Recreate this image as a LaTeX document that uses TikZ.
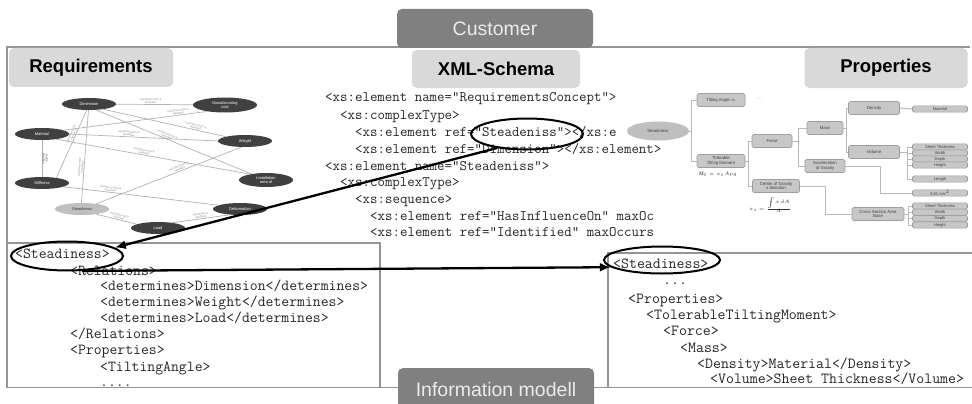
\documentclass[tikz,border=0pt]{standalone}
\usepackage{fontspec}
\setsansfont{Liberation Sans}
\usetikzlibrary{arrows.meta,shapes.geometric}
\tikzset{
  frameline/.style={draw=black!42, line width=1.3pt},
  darktab/.style={fill=black!50, rounded corners=5pt, text=black!8, inner sep=0,
    font=\sffamily\fontsize{19.5}{21}\selectfont},
  lighttab/.style={fill=black!15, rounded corners=5pt, text=black, inner sep=0,
    font=\sffamily\bfseries\fontsize{18.5}{20}\selectfont},
  codeS/.style={anchor=base west, inner sep=0, text=black!85, font=\ttfamily\fontsize{14.5}{16}\selectfont},
  codeL/.style={anchor=base west, inner sep=0, text=black!85, font=\ttfamily\fontsize{15.3}{16}\selectfont},
  codeR/.style={anchor=base west, inner sep=0, text=black!85, font=\ttfamily\fontsize{15.4}{16}\selectfont},
  req/.style={ellipse, fill=black!75, text=white, inner sep=0, minimum width=54, minimum height=12,
    align=center, font=\sffamily\fontsize{4}{4.5}\selectfont},
  reqedge/.style={draw=black!30, line width=0.7pt},
  elabel/.style={font=\sffamily\fontsize{2.7}{2.9}\selectfont, text=black!45, sloped, above=0.3pt,
    inner sep=0.2pt, align=center},
  pbox/.style={rectangle, rounded corners=1.5pt, fill=black!22, draw=black!38, line width=0.6pt,
    inner sep=0, align=center, text=black!75, font=\sffamily\fontsize{4.3}{4.8}\selectfont},
  leaf/.style={pbox, minimum width=55, minimum height=6.3, font=\sffamily\fontsize{4}{4}\selectfont},
  ptree/.style={draw=black!28, line width=1pt},
  formula/.style={inner sep=0, text=black!80, font=\fontsize{5}{6}\selectfont},
  circ/.style={ellipse, draw=black, line width=2pt, inner sep=0},
  bigarrow/.style={draw=black, line width=2.3pt, -{Latex[length=11pt,width=9pt]}},
}
\begin{document}
\begin{tikzpicture}[x=1pt,y=-1pt]
\path[use as bounding box, fill=white] (0,0) rectangle (972,404);

% frame lines
\draw[frameline] (7,243) -- (7,47) -- (970,47);
\draw[frameline] (7,243) rectangle (380,387.5);
\draw[frameline] (972,253) -- (608,253) -- (608,387.5);
\draw[frameline] (7,387.5) -- (972,387.5);

% ---------- Requirements graph ----------
\node[req] (dim) at (89,104) {Dimension};
\node[req, minimum width=64, minimum height=15] (man) at (225,105) {Manufacturing\\cost};
\node[req] (mat) at (42,134) {Material};
\node[req] (wei) at (245,141) {Weight};
\node[req] (sti) at (42,183) {Stiffness};
\node[req, minimum height=14] (ins) at (266,180) {Installation\\area of};
\node[req, fill=black!25, text=black!80] (ste) at (82,209) {Steadiness};
\node[req] (def) at (240,209) {Deformation};
\node[req] (loa) at (158,228) {Load};

\draw[reqedge] (dim) -- node[elabel, pos=0.45] {hasInfluenceOn \&\\Identified} (man);
\draw[reqedge] (dim.-20) -- node[elabel, pos=0.75] {hasInfluenceOn \&\\Identified} (wei);
\draw[reqedge] (dim.-40) -- node[elabel, pos=0.45] {hasInfluenceOn \&\\Identified} (ins);
\draw[reqedge] (dim.-110) -- node[elabel, pos=0.38] {hasInfluenceOn\\Identified} (sti.20);
\draw[reqedge] (dim.-95) -- node[elabel, pos=0.62] {hasInfluenceOn\\Identified} (ste.95);
\draw[reqedge] (mat.10) -- node[elabel, pos=0.8] {hasInfluenceOn \&\\Identified} (man.200);
\draw[reqedge] (mat.east) -- node[elabel, pos=0.4] {hasInfluenceOn \&\\Identified} (wei.west);
\draw[reqedge] (mat.-20) -- node[elabel, pos=0.45] {hasInfluenceOn \&\\Identified} (ins.160);
\draw[reqedge] (mat) -- node[elabel, text=black!70] {Build \&\\Identified} (sti);
\draw[reqedge] (sti.-10) -- node[elabel, pos=0.3] {hasInfluenceOn \&\\Identified} (def.170);
\draw[reqedge] (ste.20) -- node[elabel, pos=0.58] {hasInfluenceOn \&\\Identified} (wei.-120);
\draw[reqedge] (ste.-20) -- node[elabel, pos=0.55] {hasInfluenceOn\\Identified} (loa.170);
\draw[reqedge] (loa.20) -- node[elabel] {hasInfluence\\Identified} (def.-150);

% ---------- XML schema code ----------
\node[codeS] (s1) at (325,102) {<xs:element name="RequirementsConcept">};
\node[codeS] (s2) at (340,119) {<xs:complexType>};
\node[codeS] (s3) at (355,136) {<xs:element ref="Steadeniss"></xs:e};
\node[codeS] (s4) at (355,153) {<xs:element ref="Dimension"></xs:element>};
\node[codeS] (s5) at (325,170) {<xs:element name="Steadeniss">};
\node[codeS] (s6) at (340,186) {<xs:complexType>};
\node[codeS] (s7) at (355,203) {<xs:sequence>};
\node[codeS] (s8) at (370,220) {<xs:element ref="HasInfluenceOn" maxOc};
\node[codeS] (s9) at (370,236) {<xs:element ref="Identified" maxOccurs};

% ---------- Properties tree ----------
\node[ellipse, fill=black!25, inner sep=0, minimum width=62, minimum height=19,
  text=black!75, font=\sffamily\fontsize{4.3}{4.8}\selectfont] (pst) at (658,131) {Steadiness};
\node[pbox, minimum width=48, minimum height=13] (tilt) at (721,100) {Tilting Angle $\alpha$};
\node[inner sep=0, text=black!45, font=\sffamily\fontsize{5}{5}\selectfont] (tdots) at (759,99) {...};
\node[pbox, minimum width=48, minimum height=13] (tol) at (721,161) {Tolerable\\Tilting Moment};
\node[formula] (mt) at (718,174) {$\mathbf{M}_t = x_s A \rho g$};
\node[pbox, minimum width=40, minimum height=13] (force) at (772,141) {Force};
\node[pbox, minimum width=47, minimum height=13] (cog) at (776,186) {Center of Gravity\\x direction};
\node[formula] (xs) at (770,205) {$x_s = \frac{\int x\,dA}{A}$};
\node[pbox, minimum width=36, minimum height=13] (mass) at (825,128) {Mass};
\node[pbox, minimum width=40, minimum height=13] (acc) at (825,166) {Acceleration\\of Gravity};
\node[pbox, minimum width=51, minimum height=13] (dens) at (874,108) {Density};
\node[pbox, minimum width=51, minimum height=13] (vol) at (874,152) {Volume};
\node[leaf] (mtl) at (940,109) {Material};
\node[leaf] (v1) at (940,147) {Sheet Thickness};
\node[leaf] (v2) at (940,153) {Width};
\node[leaf] (v3) at (940,159) {Depth};
\node[leaf] (v4) at (940,165) {Height};
\node[leaf] (len) at (940,179) {Length};
\node[leaf] (grav) at (940,193) {9,81 m/s$^2$};
\node[pbox, minimum width=52, minimum height=13] (cs) at (878,214) {Cross Section Area\\Base};
\node[leaf] (c1) at (940,206) {Sheet Thickness};
\node[leaf] (c2) at (940,212.3) {Width};
\node[leaf] (c3) at (940,218.6) {Depth};
\node[leaf] (c4) at (940,225) {Height};

\coordinate (b1) at (691,131);
\coordinate (b2) at (748,161);
\coordinate (b3) at (798,141);
\coordinate (b4) at (846,128);
\coordinate (b5) at (907,152);
\coordinate (b6) at (908,214);
\draw[ptree] (pst.east) -- (b1);
\draw[ptree] (tilt.west) -| (b1);
\draw[ptree] (tol.west) -| (b1);
\draw[ptree] (tol.east) -- (b2);
\draw[ptree] (force.west) -| (b2);
\draw[ptree] (cog.west) -| (b2);
\draw[ptree] (force.east) -- (b3);
\draw[ptree] (mass.west) -| (b3);
\draw[ptree] (acc.west) -| (b3);
\draw[ptree] (mass.east) -- (b4);
\draw[ptree] (dens.west) -| (b4);
\draw[ptree] (vol.west) -| (b4);
\draw[ptree] (dens.east) -- (mtl.west);
\draw[ptree] (vol.east) -- (b5);
\draw[ptree] (v1.west) -| (b5);
\draw[ptree] (v2.west) -| (b5);
\draw[ptree] (v3.west) -| (b5);
\draw[ptree] (v4.west) -| (b5);
\draw[ptree] (len.west) -| (b5);
\draw[ptree] (acc.east) -- ++(35,0) |- (grav.west);
\draw[ptree] (cog.east) -- ++(26,0) |- (cs.west);
\draw[ptree] (cs.east) -- (b6);
\draw[ptree] (c1.west) -| (b6);
\draw[ptree] (c2.west) -| (b6);
\draw[ptree] (c3.west) -| (b6);
\draw[ptree] (c4.west) -| (b6);

% ---------- lower left code ----------
\node[codeL] (l1) at (15,258) {<Steadiness>};
\node[codeL] (l2) at (70,275) {<Relations>};
\node[codeL] (l3) at (100,290) {<determines>Dimension</determines>};
\node[codeL] (l4) at (100,306) {<determines>Weight</determines>};
\node[codeL] (l5) at (100,322) {<determines>Load</determines>};
\node[codeL] (l6) at (70,338) {</Relations>};
\node[codeL] (l7) at (70,354) {<Properties>};
\node[codeL] (l8) at (100,371) {<TiltingAngle>};
\node[codeL] (l9) at (100,386) {....};

% ---------- lower right code ----------
\node[codeR] (r1) at (613,268) {<Steadiness>};
\node[codeR] (r2) at (663,284) {...};
\node[codeR] (r3) at (628,303) {<Properties>};
\node[codeR] (r4) at (646,319) {<TolerableTiltingMoment>};
\node[codeR] (r5) at (663,335) {<Force>};
\node[codeR] (r6) at (680,352) {<Mass>};
\node[codeR] (r7) at (697,368) {<Density>Material</Density>};
\node[codeR] (r8) at (710,383) {<Volume>Sheet Thickness</Volume>};

% ---------- highlight ellipses and arrows ----------
\node[circ, minimum width=112, minimum height=31] (eA) at (527,134) {};
\node[circ, minimum width=112, minimum height=29] (eB) at (67,256) {};
\node[circ, minimum width=116, minimum height=27] (eC) at (662,260) {};
\draw[bigarrow] (eA.205) -- (eB.10);
\draw[bigarrow] (eB.-45) -- (eC.188);

% ---------- tabs ----------
\node[darktab, minimum width=196, minimum height=39] (cust) at (495,28.5) {Customer};
\node[lighttab, minimum width=164, minimum height=39] (treq) at (91,67.5) {Requirements};
\node[lighttab, minimum width=168, minimum height=38] (txml) at (496,69) {XML-Schema};
\node[lighttab, minimum width=163, minimum height=40] (tprop) at (886,68) {Properties};
\node[darktab, minimum width=196, minimum height=44] (info) at (496,390) {Information modell};
\end{tikzpicture}
\end{document}
